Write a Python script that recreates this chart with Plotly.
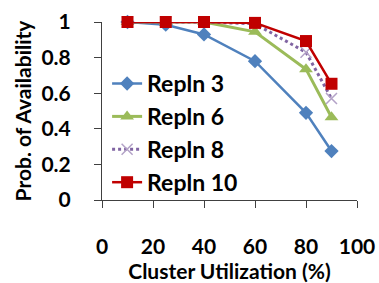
import plotly.graph_objects as go

utilization = [10, 25, 40, 60, 80, 90]
repln3 = [1.0, 0.985, 0.93, 0.78, 0.49, 0.275]
repln6 = [1.0, 1.0, 1.0, 0.945, 0.735, 0.465]
repln8 = [1.0, 1.0, 1.0, 0.99, 0.83, 0.57]
repln10 = [1.0, 1.0, 1.0, 0.995, 0.893, 0.653]
x_ticks = [0, 20, 40, 60, 80, 100]
y_ticks = [0, 0.2, 0.4, 0.6, 0.8, 1]
y_tick_text = ["0", "0.2", "0.4", "0.6", "0.8", "1"]

FONT = "Lato"
FS = 21

fig = go.Figure()
fig.add_trace(go.Scatter(x=utilization, y=repln3, name="Repln 3", mode="lines+markers",
                         line=dict(color="#4F81BD", width=2.5),
                         marker=dict(symbol="diamond", size=11, color="#4F81BD"), cliponaxis=False))
fig.add_trace(go.Scatter(x=utilization, y=repln6, name="Repln 6", mode="lines+markers",
                         line=dict(color="#9BBB59", width=3),
                         marker=dict(symbol="triangle-up", size=12, color="#9BBB59"), cliponaxis=False))
fig.add_trace(go.Scatter(x=utilization, y=repln8, name="Repln 8", mode="lines+markers",
                         line=dict(color="#8064A2", width=3, dash="dot"),
                         marker=dict(symbol="x-thin", size=11, line=dict(color="#B3A2C7", width=1.5)),
                         cliponaxis=False))
fig.add_trace(go.Scatter(x=utilization, y=repln10, name="Repln 10", mode="lines+markers",
                         line=dict(color="#C00000", width=2.5),
                         marker=dict(symbol="square", size=12, color="#C00000"), cliponaxis=False))

fig.update_layout(
    width=379, height=283,
    margin=dict(l=102, r=22, t=22, b=83),
    paper_bgcolor="white", plot_bgcolor="white",
    font=dict(family=FONT, size=FS, color="black"),
    showlegend=True,
    legend=dict(x=0.02, y=0.775, xanchor="left", yanchor="top",
                font=dict(family=FONT, size=23, color="black", weight="bold"),
                bgcolor="rgba(0,0,0,0)", tracegroupgap=0, itemwidth=30),
    xaxis=dict(range=[0, 100], tickvals=x_ticks, ticks="outside", ticklen=7,
               tickcolor="#404040", showline=True, linecolor="#404040", linewidth=1,
               showgrid=False, zeroline=False, ticklabelstandoff=21, automargin=False,
               tickfont=dict(family=FONT, size=FS, weight="bold"),
               title=dict(text="<b>Cluster Utilization (%)</b>", standoff=0,
                          font=dict(family=FONT, size=FS))),
    yaxis=dict(range=[0, 1], tickvals=y_ticks, ticktext=y_tick_text, ticks="outside", ticklen=7,
               tickcolor="#404040", showline=True, linecolor="#404040", linewidth=1,
               showgrid=False, zeroline=False, ticklabelstandoff=19, automargin=False,
               tickfont=dict(family=FONT, size=FS, weight="bold"),
               title=dict(text="<b>Prob. of Availability</b>", standoff=4,
                          font=dict(family=FONT, size=FS))),
)

fig.write_html("out.html", config={"displayModeBar": False},
               post_script="document.body.style.margin='0';document.body.style.overflow='hidden';")
